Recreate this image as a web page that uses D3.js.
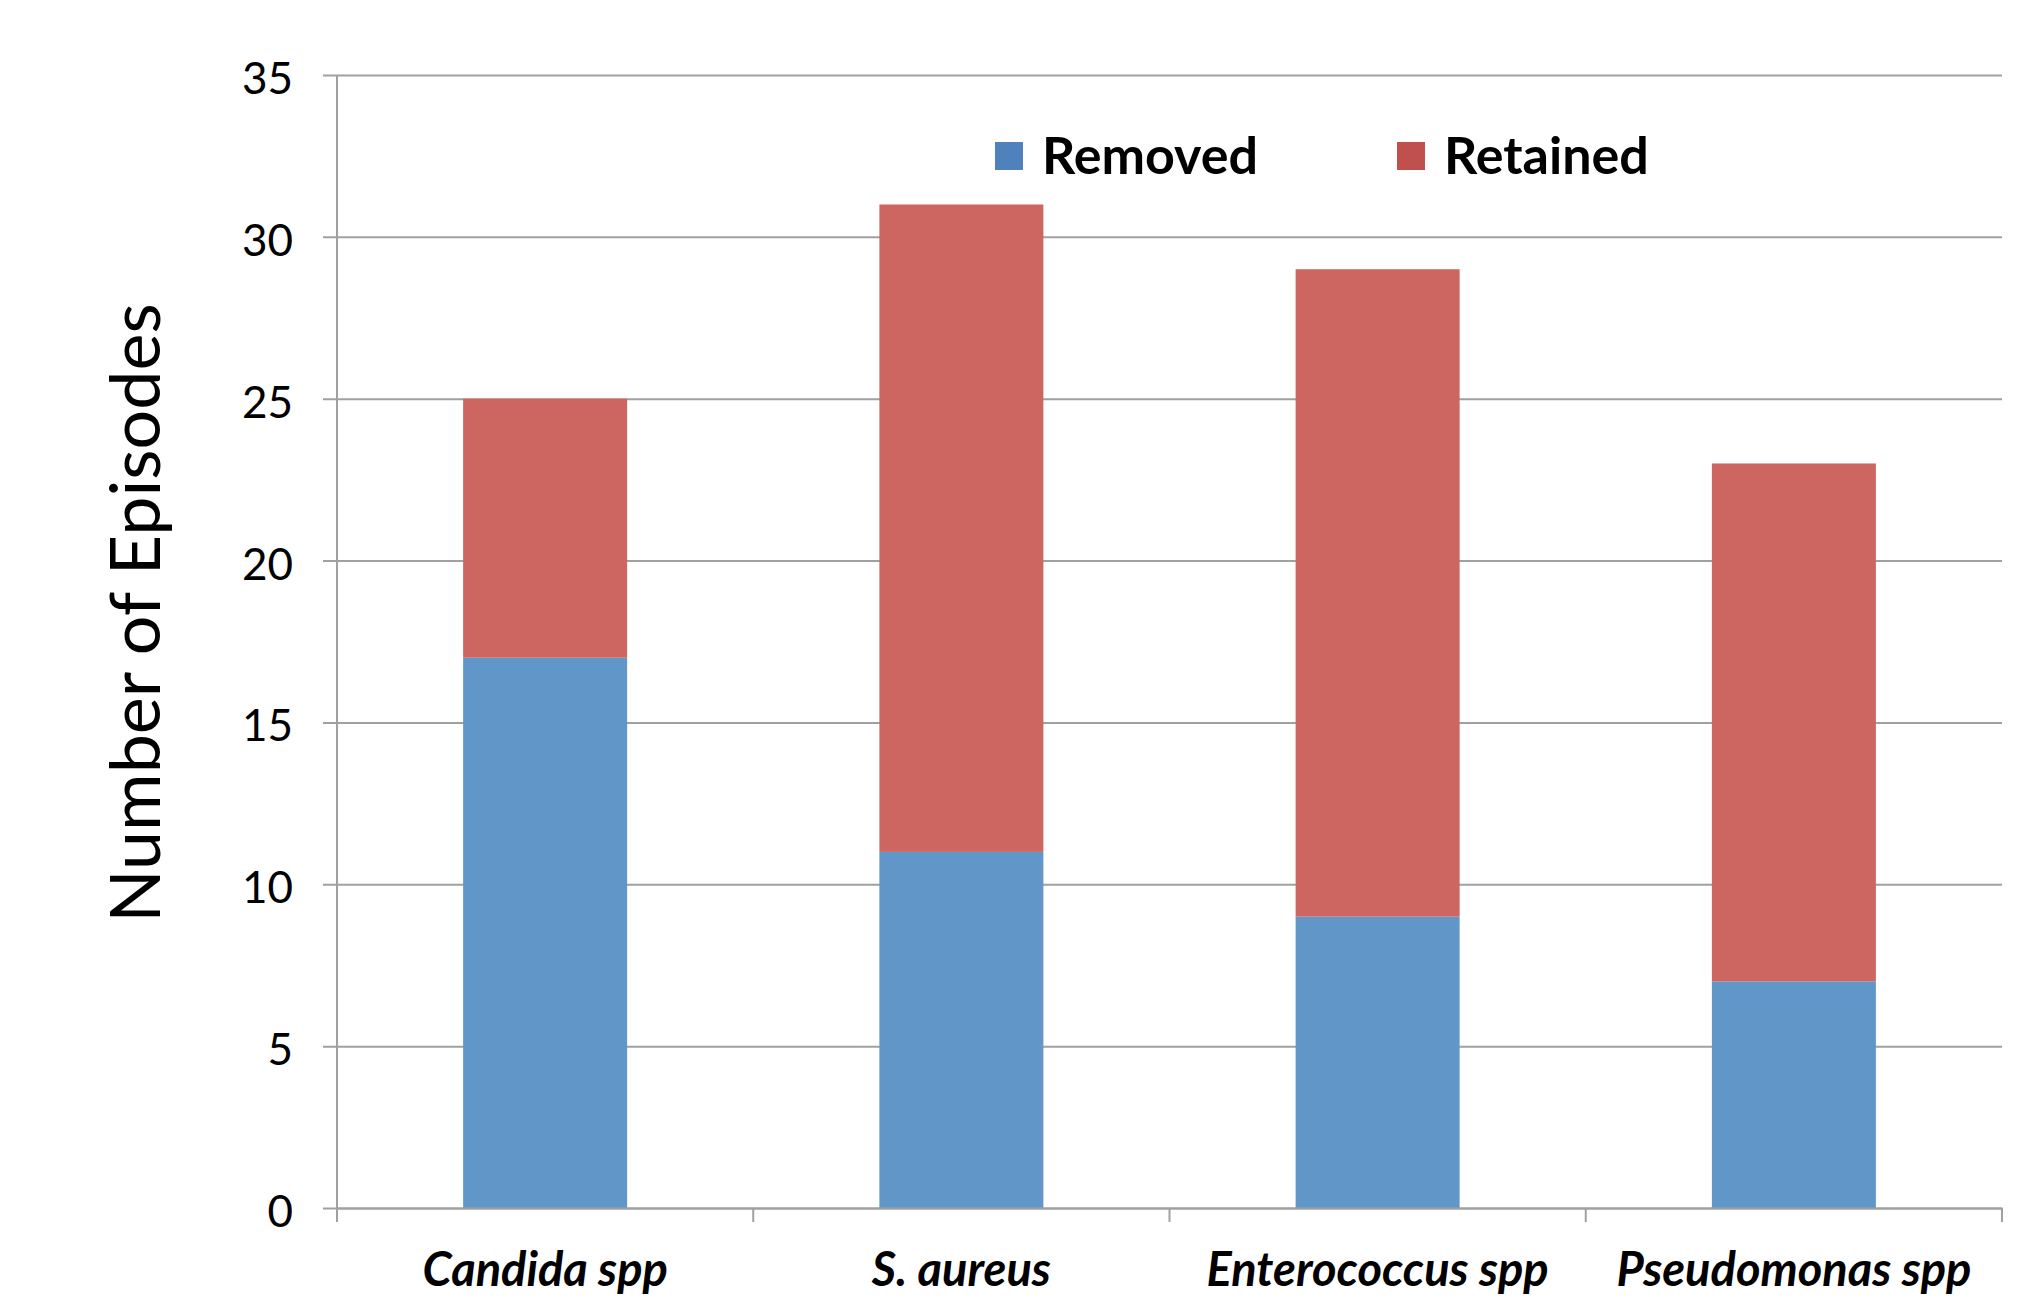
<!DOCTYPE html>
<html>
<head>
<meta charset="utf-8">
<script src="https://cdn.jsdelivr.net/npm/d3@7"></script>
<style>
  html, body { margin: 0; padding: 0; background: #fff; }
  svg { display: block; font-family: Lato, "Open Sans", sans-serif; }
</style>
</head>
<body>
<div id="container"></div>
<script>
const categories = ['Candida spp', 'S. aureus', 'Enterococcus spp', 'Pseudomonas spp'];
const seriesNames = ['Removed', 'Retained'];
const removed = [17, 11, 9, 7];
const retained = [8, 20, 20, 16];
const yTicks = [0, 5, 10, 15, 20, 25, 30, 35];

const W = 2044, H = 1302;
const margin = { left: 337, right: 42, top: 75, bottom: 94 };

const svg = d3.select('#container').append('svg')
    .attr('width', W)
    .attr('height', H);

const x = d3.scaleBand()
    .domain(categories)
    .range([margin.left, W - margin.right])
    .paddingInner(0.606)
    .paddingOuter(0.303);

const y = d3.scaleLinear()
    .domain([0, 35])
    .range([H - margin.bottom, margin.top]);

const color = d3.scaleOrdinal()
    .domain(seriesNames)
    .range(['#6196c9', '#cd6660']);
const legendColor = d3.scaleOrdinal()
    .domain(seriesNames)
    .range(['#4f81bd', '#c0504d']);

// gridlines + y ticks
const yAxis = d3.axisLeft(y)
    .tickValues(yTicks)
    .tickSize(-(W - margin.left - margin.right))
    .tickSizeOuter(0)
    .tickPadding(44);

const gy = svg.append('g')
    .attr('transform', `translate(${margin.left},0)`)
    .call(yAxis);
gy.select('.domain').remove();
gy.selectAll('.tick line')
    .attr('x1', -14)
    .attr('stroke', '#a0a0a0')
    .attr('stroke-width', 2);
gy.selectAll('.tick text')
    .attr('font-size', 44)
    .attr('dy', '0.42em')
    .attr('fill', '#000')
    .attr('font-family', 'Lato, sans-serif');

// bars
const table = categories.map((c, i) => ({ cat: c, Removed: removed[i], Retained: retained[i] }));
const stacked = d3.stack().keys(seriesNames)(table);

svg.append('g').selectAll('g')
    .data(stacked)
    .join('g')
    .attr('fill', d => color(d.key))
    .selectAll('rect')
    .data(d => d)
    .join('rect')
    .attr('x', d => x(d.data.cat))
    .attr('width', x.bandwidth())
    .attr('y', d => y(d[1]))
    .attr('height', d => y(d[0]) - y(d[1]));

// left axis line
svg.append('line')
    .attr('x1', margin.left).attr('x2', margin.left)
    .attr('y1', y(35)).attr('y2', y(0) + 14)
    .attr('stroke', '#a0a0a0')
    .attr('stroke-width', 2);

// x axis
const xAxis = d3.axisBottom(x).tickSize(0).tickPadding(45);
const gx = svg.append('g')
    .attr('transform', `translate(0,${y(0)})`)
    .call(xAxis);
gx.select('.domain')
    .attr('stroke', '#a0a0a0')
    .attr('stroke-width', 2);
gx.selectAll('.tick text')
    .attr('font-size', 47)
    .attr('font-weight', 'bold')
    .attr('font-style', 'italic')
    .attr('fill', '#000')
    .attr('font-family', 'Lato, sans-serif');

// category boundary ticks
const step = x.step();
const bounds = d3.range(categories.length + 1).map(i => margin.left + i * step);
gx.selectAll('.bound')
    .data(bounds)
    .join('line')
    .attr('class', 'bound')
    .attr('x1', d => d).attr('x2', d => d)
    .attr('y1', 0).attr('y2', 14)
    .attr('stroke', '#a0a0a0')
    .attr('stroke-width', 2);

// y title
svg.append('text')
    .attr('transform', 'translate(160,613) rotate(-90)')
    .attr('text-anchor', 'middle')
    .attr('font-size', 70)
    .attr('fill', '#000')
    .text('Number of Episodes');

// legend
const legendX = [995, 1397];
const legend = svg.append('g')
    .selectAll('g')
    .data(seriesNames)
    .join('g')
    .attr('transform', (d, i) => `translate(${legendX[i]},156)`);
legend.append('rect')
    .attr('x', 0).attr('y', -14)
    .attr('width', 28).attr('height', 28)
    .attr('fill', d => legendColor(d));
legend.append('text')
    .attr('x', 47).attr('y', 0)
    .attr('dy', '0.35em')
    .attr('font-size', 52)
    .attr('font-weight', 'bold')
    .attr('fill', '#000')
    .text(d => d);
</script>
</body>
</html>
